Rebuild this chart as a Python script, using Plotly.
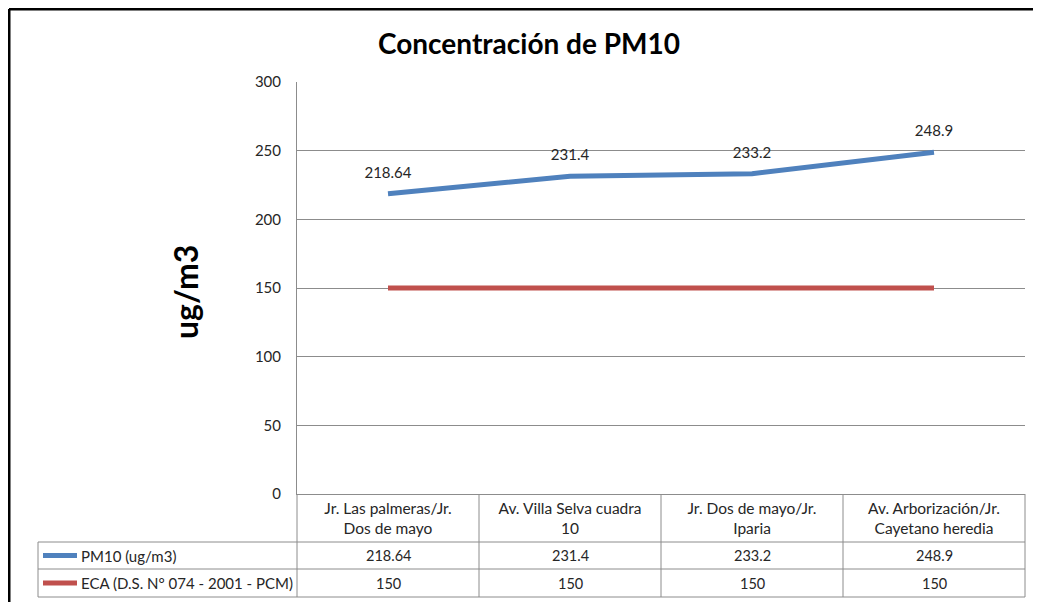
import plotly.graph_objects as go

# Data
categories = [
    "Jr. Las palmeras/Jr.<br>Dos de mayo",
    "Av. Villa Selva cuadra<br>10",
    "Jr. Dos de mayo/Jr.<br>Iparia",
    "Av. Arborización/Jr.<br>Cayetano heredia",
]
pm10_values = [218.64, 231.4, 233.2, 248.9]
eca_values = [150, 150, 150, 150]
series_names = ["PM10 (ug/m3)", "ECA (D.S. N° 074 - 2001 - PCM)"]
y_ticks = [0, 50, 100, 150, 200, 250, 300]

# Colors / fonts
color_blue = '#4F81BD'
color_red = '#C0504D'
color_grid = '#8C8C8C'
color_text = '#262626'
font_family = 'Lato, Calibri, sans-serif'

# Layout geometry (pixels, in page coords; the page body has an 8px margin)
OFF = 8
W, H = 1041 - OFF, 602 - OFF
plot_l, plot_r, plot_t, plot_b = 297, 1025, 82, 494
plot_w = plot_r - plot_l
plot_h = plot_b - plot_t


def px_x(x):
    return (x - plot_l) / plot_w


def px_y(y):
    return (plot_b - y) / plot_h


fig = go.Figure()

series = [(pm10_values, color_blue), (eca_values, color_red)]
for (vals, color), name in zip(series, series_names):
    show_text = vals is pm10_values
    fig.add_trace(go.Scatter(
        x=categories,
        y=vals,
        name=name,
        mode='lines+markers+text' if show_text else 'lines',
        line=dict(color=color, width=5),
        marker=dict(size=18, color='rgba(0,0,0,0)'),
        text=[f'{v:g}' for v in vals] if show_text else None,
        textposition='top center',
        textfont=dict(size=15, color=color_text, family=font_family),
        showlegend=False,
        hoverinfo='skip',
    ))

# Table rows below the plot
table_left = px_x(38)
row_edges = [px_y(542), px_y(569), px_y(597)]
shapes = []
line_style = dict(color=color_grid, width=1)

# horizontal table lines
for y in row_edges:
    shapes.append(dict(type='line', xref='paper', yref='paper',
                       x0=table_left, x1=1, y0=y, y1=y, line=line_style))
# vertical table lines (category boundaries + outer edges)
n = len(categories)
for i in range(n + 1):
    shapes.append(dict(type='line', xref='paper', yref='paper',
                       x0=i / n, x1=i / n, y0=0, y1=row_edges[-1], line=line_style))
shapes.append(dict(type='line', xref='paper', yref='paper',
                   x0=table_left, x1=table_left, y0=row_edges[0], y1=row_edges[-1],
                   line=line_style))

annotations = []
for r, (vals, color) in enumerate(series):
    y_mid = (row_edges[r] + row_edges[r + 1]) / 2
    # legend key
    shapes.append(dict(type='line', xref='paper', yref='paper',
                       x0=px_x(43), x1=px_x(77), y0=y_mid, y1=y_mid,
                       line=dict(color=color, width=5)))
    annotations.append(dict(xref='paper', yref='paper', x=px_x(79), y=y_mid,
                            text=series_names[r], showarrow=False,
                            xanchor='left', yanchor='middle',
                            font=dict(size=15, color=color_text, family=font_family)))
    for cat, v in zip(categories, vals):
        annotations.append(dict(xref='x', yref='paper', x=cat, y=y_mid,
                                text=f'{v:g}', showarrow=False,
                                xanchor='center', yanchor='middle',
                                font=dict(size=14.5, color=color_text, family=font_family)))

# Outer chart border (only the top and left edges fall inside the picture)
border = dict(color='black', width=3)
shapes.append(dict(type='line', xref='paper', yref='paper',
                   x0=px_x(OFF + 1), x1=px_x(1041 + 20), y0=px_y(OFF + 1), y1=px_y(OFF + 1),
                   line=border))
shapes.append(dict(type='line', xref='paper', yref='paper',
                   x0=px_x(OFF + 1), x1=px_x(OFF + 1), y0=px_y(OFF + 1), y1=px_y(602 + 20),
                   line=border))

# Title and y axis title
annotations.append(dict(xref='paper', yref='paper', x=px_x(529), y=px_y(43),
                        text='<b>Concentración de PM10</b>', showarrow=False,
                        xanchor='center', yanchor='middle',
                        font=dict(size=28, color='black', family=font_family)))
annotations.append(dict(xref='paper', yref='paper', x=px_x(185), y=px_y(292),
                        text='<b>ug/m3</b>', showarrow=False, textangle=-90,
                        xanchor='center', yanchor='middle',
                        font=dict(size=32, color='black', family=font_family)))

fig.update_layout(
    width=W, height=H,
    margin=dict(l=plot_l - OFF, r=1041 - plot_r, t=plot_t - OFF, b=602 - plot_b),
    paper_bgcolor='white',
    plot_bgcolor='white',
    font=dict(family=font_family, color=color_text),
    shapes=shapes,
    annotations=annotations,
    xaxis=dict(
        type='category',
        range=[-0.5, n - 0.5],
        showgrid=False,
        showline=True, linecolor=color_grid, linewidth=1,
        ticks='', tickfont=dict(size=15.5, color=color_text),
        ticklabelstandoff=0,
        fixedrange=True,
    ),
    yaxis=dict(
        range=[0, 300],
        tickvals=y_ticks,
        showgrid=True, gridcolor=color_grid, gridwidth=1,
        showline=True, linecolor=color_grid, linewidth=1,
        zeroline=False,
        ticks='', tickfont=dict(size=15, color=color_text),
        ticklabelstandoff=12,
        fixedrange=True,
    ),
)

fig.write_html("out.html")
